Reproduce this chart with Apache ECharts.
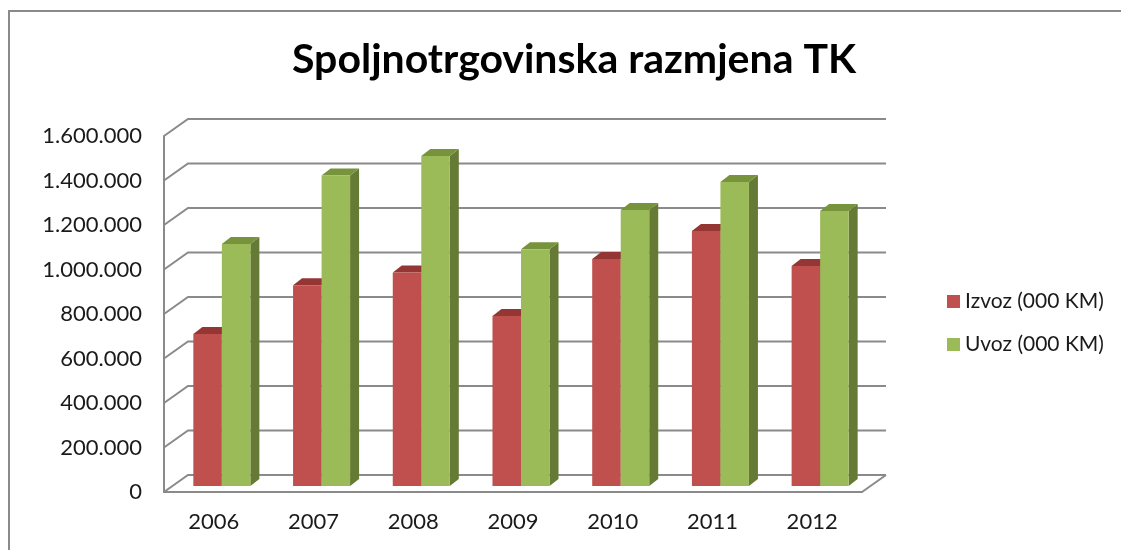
<!DOCTYPE html>
<html>
<head>
<meta charset="utf-8">
<script src="https://cdn.jsdelivr.net/npm/echarts@6/dist/echarts.min.js"></script>
<style>
  html, body { margin: 0; padding: 0; background: #fff; }
  #chart { width: 1121px; height: 550px; }
</style>
</head>
<body>
<div id="chart"></div>
<script>
// podaci (000 KM)
const years = ['2006', '2007', '2008', '2009', '2010', '2011', '2012'];
const izvoz = [683000, 902000, 959000, 764000, 1020000, 1146000, 989000];
const uvoz = [1088000, 1395000, 1483000, 1064000, 1240000, 1366000, 1236000];
const yTicks = [0, 200000, 400000, 600000, 800000, 1000000, 1200000, 1400000, 1600000];

// 3D pomaci (px)
const WALL_DX = 24, WALL_DY = -17;   // dubina poda / zadnji zid
const BAR_DX = 8, BAR_DY = -6;       // prednja strana stubova
const SIDE_DX = 9, SIDE_DY = -7;     // dubina stuba
const gridColor = '#8a8a8a';

const fmt = v => String(v).replace(/\B(?=(\d{3})+(?!\d))/g, '.');

function wallItem(params, api) {
  const cs = params.coordSys;
  const y = api.coord([0, api.value(0)])[1];
  const children = [{
    type: 'polyline',
    shape: { points: [[cs.x, y], [cs.x + WALL_DX, y + WALL_DY], [cs.x + cs.width + WALL_DX, y + WALL_DY]] },
    style: { stroke: gridColor, lineWidth: 2, fill: null }
  }];
  if (api.value(0) === 0) {
    children.push({
      type: 'line',
      shape: { x1: cs.x + cs.width, y1: y, x2: cs.x + cs.width + WALL_DX, y2: y + WALL_DY },
      style: { stroke: gridColor, lineWidth: 2 }
    });
  }
  return { type: 'group', children };
}

function makeBarItem(slot, front, top, side) {
  return function (params, api) {
    const idx = api.value(0);
    const base = api.coord([idx, 0]);
    const topPt = api.coord([idx, api.value(1)]);
    const band = api.size([1, 0])[0];
    const w = band * 0.286;
    const x0 = base[0] - w + slot * w + BAR_DX;
    const x1 = x0 + w;
    const yb = base[1] + BAR_DY;
    const yt = topPt[1] + BAR_DY;
    return {
      type: 'group',
      children: [
        { type: 'polygon', shape: { points: [[x1, yt], [x1 + SIDE_DX, yt + SIDE_DY], [x1 + SIDE_DX, yb + SIDE_DY], [x1, yb]] },
          style: { fill: side } },
        { type: 'polygon', shape: { points: [[x0, yt], [x0 + SIDE_DX, yt + SIDE_DY], [x1 + SIDE_DX, yt + SIDE_DY], [x1, yt]] },
          style: { fill: top } },
        { type: 'rect', shape: { x: x0, y: yt, width: w, height: yb - yt },
          style: { fill: front } }
      ]
    };
  };
}

const chart = echarts.init(document.getElementById('chart'));
chart.setOption({
  animation: false,
  backgroundColor: '#fff',
  title: {
    text: 'Spoljnotrgovinska razmjena TK',
    left: 287,
    top: 34,
    textStyle: { fontFamily: 'Lato', fontWeight: 'bold', fontSize: 41, color: '#000' }
  },
  graphic: [{
    type: 'rect',
    shape: { x: 9, y: 11, width: 1200, height: 600 },
    style: { fill: null, stroke: '#8a8a8a', lineWidth: 2 },
    silent: true
  }],
  legend: {
    orient: 'vertical',
    left: 942,
    top: 286,
    itemWidth: 13,
    itemHeight: 13,
    itemGap: 22,
    icon: 'rect',
    data: ['Izvoz (000 KM)', 'Uvoz (000 KM)'],
    textStyle: { fontFamily: 'Lato', fontSize: 21, color: '#1a1a1a' }
  },
  grid: { left: 164, right: 259, top: 136, bottom: 58 },
  xAxis: {
    type: 'category',
    data: years,
    axisLine: { lineStyle: { color: gridColor, width: 2 } },
    axisTick: { show: false },
    axisLabel: { margin: 19, fontFamily: 'Lato', fontSize: 22, color: '#1a1a1a' }
  },
  yAxis: {
    type: 'value',
    min: 0,
    max: 1600000,
    interval: 200000,
    axisLine: { show: true, lineStyle: { color: gridColor, width: 2 } },
    axisTick: { show: false },
    splitLine: { show: false },
    axisLabel: { margin: 22, fontFamily: 'Lato', fontSize: 22, color: '#1a1a1a', formatter: fmt }
  },
  series: [
    {
      type: 'custom',
      silent: true,
      z: 1,
      renderItem: wallItem,
      data: yTicks.map(v => [v]),
      encode: { y: 0 }
    },
    {
      name: 'Izvoz (000 KM)',
      type: 'custom',
      z: 2,
      itemStyle: { color: '#C0504D' },
      renderItem: makeBarItem(0, '#C0504D', '#943634', '#8C3432'),
      data: izvoz.map((v, i) => [i, v]),
      encode: { x: 0, y: 1 }
    },
    {
      name: 'Uvoz (000 KM)',
      type: 'custom',
      z: 3,
      itemStyle: { color: '#9BBB59' },
      renderItem: makeBarItem(1, '#9BBB59', '#77933C', '#657A35'),
      data: uvoz.map((v, i) => [i, v]),
      encode: { x: 0, y: 1 }
    }
  ]
});
</script>
</body>
</html>
